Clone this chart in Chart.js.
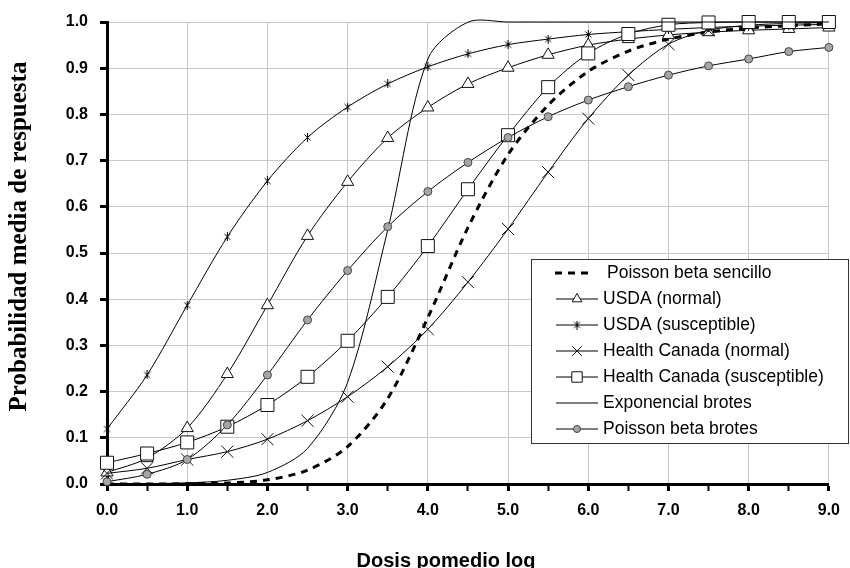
<!DOCTYPE html>
<html>
<head>
<meta charset="utf-8">
<script src="https://cdn.jsdelivr.net/npm/chart.js@4.4.1/dist/chart.umd.min.js"></script>
<style>
  html, body { margin: 0; padding: 0; background: #fff; }
</style>
</head>
<body>
<canvas id="myChart" width="850" height="568"></canvas>
<script>
// DATA
const dosis = [0, 0.5, 1, 1.5, 2, 2.5, 3, 3.5, 4, 4.5, 5, 5.5, 6, 6.5, 7, 7.5, 8, 8.5, 9];
const poissonBetaSencillo = [0, 0, 0.0005, 0.002, 0.009, 0.03, 0.081, 0.185, 0.36, 0.555, 0.713, 0.82, 0.893, 0.937, 0.963, 0.978, 0.987, 0.992, 0.996];
const usdaNormal = [0.025, 0.056, 0.121, 0.238, 0.387, 0.537, 0.654, 0.749, 0.815, 0.866, 0.901, 0.929, 0.95, 0.963, 0.972, 0.978, 0.982, 0.985, 0.988];
const usdaSusceptible = [0.119, 0.236, 0.387, 0.535, 0.656, 0.75, 0.816, 0.866, 0.903, 0.931, 0.951, 0.963, 0.973, 0.979, 0.984, 0.988, 0.991, 0.993, 0.995];
const hcNormal = [0.023, 0.034, 0.053, 0.07, 0.097, 0.137, 0.189, 0.254, 0.335, 0.437, 0.552, 0.675, 0.791, 0.885, 0.952, 0.982, 0.993, 0.997, 0.999];
const hcSusceptible = [0.046, 0.066, 0.09, 0.124, 0.171, 0.232, 0.31, 0.405, 0.515, 0.638, 0.755, 0.859, 0.932, 0.974, 0.994, 0.999, 1, 1, 1];
const exponencialBrotes = [0.0003, 0.0008, 0.0025, 0.008, 0.025, 0.077, 0.22, 0.55, 0.92, 0.9997, 1, 1, 1, 1, 1, 1, 1, 1, 1];
const poissonBetaBrotes = [0.005, 0.021, 0.053, 0.128, 0.236, 0.355, 0.462, 0.557, 0.633, 0.696, 0.75, 0.795, 0.831, 0.86, 0.885, 0.905, 0.92, 0.936, 0.945];

const xTitle = "Dosis pomedio log";
const yTitle = "Probabilidad media de respuesta";

const SANS = "'Liberation Sans', Arial, sans-serif";
const SERIF = "'Liberation Serif', 'Times New Roman', serif";

// asterisk marker like the Excel one
const makeStar = () => {
  const c = document.createElement("canvas");
  c.width = 9;
  c.height = 9;
  const g = c.getContext("2d");
  g.strokeStyle = "#000";
  g.lineWidth = 1;
  g.beginPath();
  g.moveTo(1.5, 1.5); g.lineTo(7.5, 7.5);
  g.moveTo(7.5, 1.5); g.lineTo(1.5, 7.5);
  g.moveTo(4.5, 0); g.lineTo(4.5, 9);
  g.stroke();
  return c;
};
const star = makeStar();

const serie = (label, values, extra) => ({
  label: label,
  data: dosis.map((x, i) => ({ x: x, y: values[i] })),
  borderColor: "#000",
  borderWidth: 1,
  tension: 0.3,
  fill: false,
  clip: false,
  pointBorderColor: "#111",
  pointBorderWidth: 1,
  pointBackgroundColor: "#fff",
  ...extra,
});

const datasets = [
  serie("Poisson beta sencillo", poissonBetaSencillo, { borderWidth: 3, borderDash: [7, 6], pointRadius: 0 }),
  serie("USDA (normal)", usdaNormal, { pointStyle: "triangle", pointRadius: 7 }),
  serie("USDA (susceptible)", usdaSusceptible, { pointStyle: star, pointRadius: 5 }),
  serie("Health Canada (normal)", hcNormal, { pointStyle: "crossRot", pointRadius: 8.5 }),
  serie("Health Canada (susceptible)", hcSusceptible, { pointStyle: "rect", pointRadius: 9.2 }),
  serie("Exponencial brotes", exponencialBrotes, { pointRadius: 0 }),
  serie("Poisson beta brotes", poissonBetaBrotes, { pointStyle: "circle", pointRadius: 4, pointBackgroundColor: "#a6a6a6", pointBorderColor: "#444" }),
];
// later series on top, like Excel
datasets.forEach((d, i) => { d.order = datasets.length - i; });

// legend box + axis titles
const extras = {
  id: "extras",
  afterDraw(chart) {
    const ctx = chart.ctx;
    ctx.save();
    ctx.fillStyle = "#fff";
    ctx.fillRect(531, 259, 317, 184);
    ctx.strokeStyle = "#333";
    ctx.lineWidth = 1;
    ctx.strokeRect(531.5, 259.5, 317, 184);

    datasets.forEach((ds, i) => {
      const y = 273 + i * 26;
      ctx.save();
      ctx.strokeStyle = "#000";
      ctx.lineWidth = ds.borderWidth;
      ctx.setLineDash(ds.borderDash || []);
      ctx.beginPath();
      if (ds.borderDash) {
        ctx.moveTo(555, y); ctx.lineTo(594, y);
      } else {
        ctx.moveTo(556, y); ctx.lineTo(598, y);
      }
      ctx.stroke();
      ctx.restore();
      if (ds.pointRadius > 0) {
        ctx.fillStyle = ds.pointBackgroundColor;
        ctx.strokeStyle = ds.pointBorderColor;
        ctx.lineWidth = 1;
        Chart.helpers.drawPoint(ctx, {
          pointStyle: ds.pointStyle,
          radius: ds.pointStyle === "circle" ? 3.5 : ds.pointRadius * 0.8,
          borderWidth: 1,
          rotation: 0,
        }, 577, y);
      }
      ctx.fillStyle = "#000";
      ctx.font = "17.5px " + SANS;
      ctx.textAlign = "left";
      ctx.textBaseline = "middle";
      ctx.fillText(ds.label, ds.borderDash ? 607 : 603, y);
    });

    ctx.fillStyle = "#000";
    ctx.font = "bold 20px " + SANS;
    ctx.textAlign = "center";
    ctx.textBaseline = "middle";
    ctx.fillText(xTitle, 446, 561);

    ctx.translate(19.5, 236.5);
    ctx.rotate(-Math.PI / 2);
    ctx.font = "bold 25px " + SERIF;
    ctx.fillText(yTitle, 0, 0);
    ctx.restore();
  },
};

const tickFont = { family: SANS, size: 16, weight: "bold" };

const config = {
  type: "line",
  data: { datasets: datasets },
  options: {
    responsive: false,
    animation: false,
    layout: { padding: { left: 0, right: 11, top: 22, bottom: 0 } },
    elements: { line: { capBezierPoints: false } },
    plugins: { legend: { display: false }, tooltip: { enabled: false } },
    scales: {
      x: {
        type: "linear",
        min: 0,
        max: 9,
        afterFit: (s) => { s.height = 84; },
        ticks: {
          stepSize: 0.5,
          autoSkip: false,
          maxRotation: 0,
          padding: 10,
          color: "#000",
          font: tickFont,
          callback: (v) => (v % 1 === 0 ? v.toFixed(1) : ""),
        },
        grid: {
          color: (c) => (c.tick && c.tick.value % 1 !== 0 ? "rgba(0,0,0,0)" : "#c8c8c8"),
          lineWidth: 1,
          tickLength: 7,
          tickColor: "#000",
          tickWidth: (c) => (c.tick && c.tick.value % 1 !== 0 ? 2 : 3),
        },
        border: { color: "#000", width: 3 },
      },
      y: {
        min: 0,
        max: 1,
        afterFit: (s) => { s.width = 107; },
        ticks: {
          stepSize: 0.1,
          padding: 12,
          color: "#000",
          font: tickFont,
          callback: (v) => v.toFixed(1),
        },
        grid: {
          color: "#c8c8c8",
          lineWidth: 1,
          tickLength: 7,
          tickColor: "#000",
          tickWidth: 3,
        },
        border: { color: "#000", width: 3 },
      },
    },
  },
  plugins: [extras],
};

const myChart = new Chart(document.getElementById("myChart"), config);
</script>
</body>
</html>
